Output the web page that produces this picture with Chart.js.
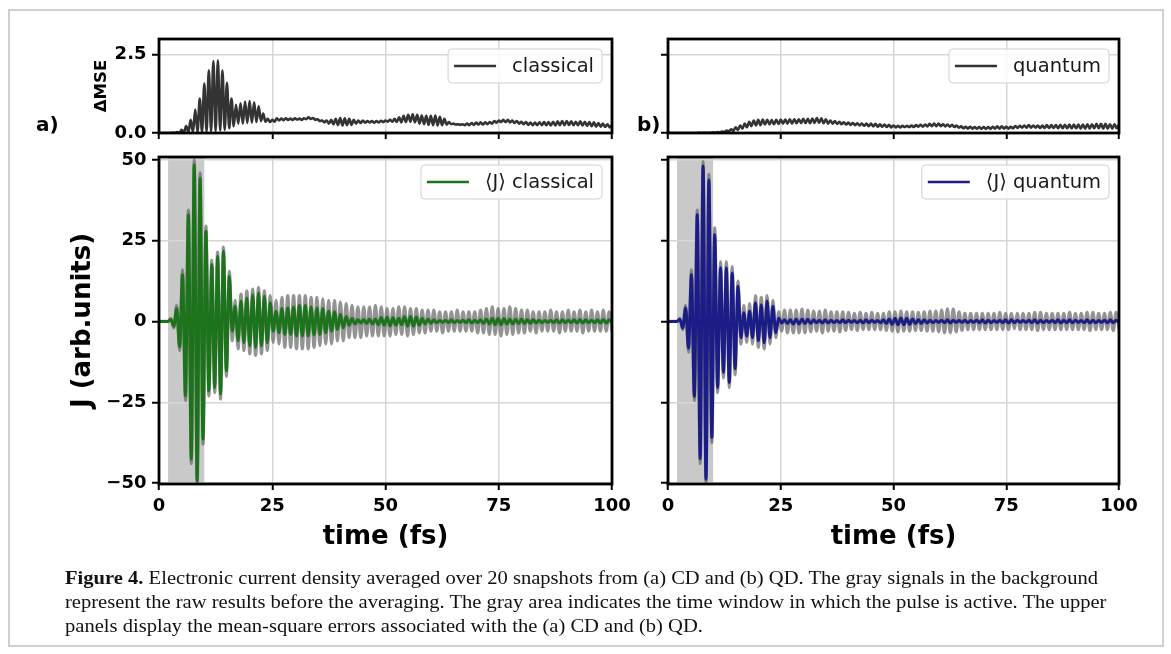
<!DOCTYPE html>
<html>
<head>
<meta charset="utf-8">
<script src="https://cdn.jsdelivr.net/npm/chart.js@4.4.1/dist/chart.umd.min.js"></script>
<style>
body { margin: 0; background: #fff; width: 1171px; height: 654px; overflow: hidden; position: relative; font-family: "DejaVu Sans", sans-serif; }
canvas { position: absolute; left: 0; top: 0; }
.frame { position: absolute; left: 8px; top: 9px; width: 1152px; height: 634px; border: 2px solid #d0d0d0; }
.tag { position: absolute; top: 112px; font: bold 20px/24px "DejaVu Sans", sans-serif; color: #000; }
#caption { position: absolute; left: 65px; top: 566px; font: 19px/24px "Liberation Serif", serif; color: #111; white-space: nowrap; transform-origin: 0 0; }
</style>
</head>
<body>
<div class="frame"></div>
<canvas id="mseA" width="1171" height="654"></canvas>
<canvas id="mseB" width="1171" height="654"></canvas>
<canvas id="curA" width="1171" height="654"></canvas>
<canvas id="curB" width="1171" height="654"></canvas>
<div class="tag" style="left:36px">a)</div>
<div class="tag" style="left:637px">b)</div>
<div id="caption"><span id="cap1"><b>Figure 4.</b> Electronic current density averaged over 20 snapshots from (a) CD and (b) QD. The gray signals in the background</span><br>represent the raw results before the averaging. The gray area indicates the time window in which the pulse is active. The upper<br>panels display the mean-square errors associated with the (a) CD and (b) QD.</div>
<script>
// axes
const timeTicks = [0, 25, 50, 75, 100];
const jTicks = [-50, -25, 0, 25, 50];
const mseTicks = [0, 2.5];
const pulseWindow = [2, 10];   // fs, pulse active

// current: extrema sampled every half period (fs)
const jStart = 2.62;
const jStep = 0.645;

const jClassicalMean = [
  0.6, -1.5, 4, -7.8, 14.5, -23, 33, -42.6, 48.5, -49.3,
  44.3, -36.4, 27.9, -21.5, 17.6, -20.5, 20.2, -22.5, 21.7, -15.3,
  14, -3, 4.7, -6, 6.3, -6.6, 7.3, -7.6, 8.3, -8.1,
  8.8, -7.6, 7.8, -6.6, 5.8, -3, 3.2, -3.5, 4, -4,
  4.2, -4, 4.5, -4.5, 5, -4.5, 5, -4.5, 4.5, -4.2,
  4.2, -4, 4, -3.5, 3.2, -3, 3, -2.5, 2.2, -2,
  1.5, -1.2, 1, -0.8, 0.6, -0.5, 0.6, -0.6, 0.8, -0.8,
  0.8, -1, 1.2, -1.2, 1.4, -1.4, 1.2, -1.2, 1, -1,
  1.5, -1.5, 1.6, -1.5, 1.4, -1.2, 1, -0.8, 0.8, -0.6,
  0.5, -0.4, 0.3, -0.3, 0.4, -0.4, 0.5, -0.4, 0.3, -0.3,
  0.4, -0.4, 0.5, -0.5, 0.4, -0.4, 0.5, -0.6, 0.8, -0.8,
  1, -1, 1, -1, 0.9, -0.8, 0.8, -0.8, 0.7, -0.7,
  0.8, -0.7, 0.6, -0.6, 0.6, -0.5, 0.4, -0.4, 0.3, -0.3,
  0.4, -0.4, 0.5, -0.5, 0.5, -0.4, 0.4, -0.4, 0.5, -0.5,
  0.6, -0.5, 0.5, -0.4, 0.4, -0.4, 0.5, -0.5, 0.6, -0.5,
  0.5, -0.4
];
const jClassicalRaw = [
  1, -2, 5, -9, 16, -24.5, 34.5, -44, 50, -50.2,
  46, -38, 29.5, -23, 19, -22, 21.5, -24, 23, -17,
  15.5, -6, 6.5, -8.5, 8.5, -9, 9.5, -10, 10, -10.5,
  10.5, -10, 9.5, -9, 8, -6.5, 6.5, -7, 7.5, -8,
  8, -8, 8, -8.5, 8, -8.5, 8, -8.5, 7.5, -8,
  7.5, -7.5, 7, -7, 6.5, -7, 6.5, -6, 6, -6,
  5.5, -5, 5, -5, 4.5, -5, 4.5, -4.5, 4.5, -4.5,
  5, -4.5, 4.5, -4.5, 4, -4.5, 4, -4, 4.5, -4,
  4.5, -4.5, 4, -4, 4, -3.5, 3.5, -3.5, 3.5, -3,
  3.5, -3, 3, -3.5, 3, -3, 3, -3, 3.5, -3,
  3, -3, 3, -3, 3, -3.5, 3.5, -3.5, 4, -4,
  4.5, -4, 4, -4.5, 4, -4, 4.5, -4, 4, -3.5,
  3.5, -3.5, 3.5, -3, 3, -3.5, 3, -3, 3, -3,
  3.5, -3, 3, -3.5, 3, -3, 3.5, -3, 3, -3,
  3.5, -3.5, 3, -3, 3.5, -3, 3, -3, 3.5, -3,
  3, -3
];
const jQuantumMean = [
  0.7, -2, 4.2, -8.3, 14.5, -23.2, 33, -42.4, 48.1, -48.8,
  43.8, -35.9, 26.9, -20.5, 16.6, -15.8, 16.6, -18.9, 15, -14.6,
  10.9, -5, 2.7, -4.5, 3.2, -5, 5.8, -6, 5.2, -6.6,
  6.3, -5, 4.7, -3.5, 1.1, -0.5, 0.5, -0.6, 0.6, -0.8,
  0.8, -0.8, 0.8, -0.7, 0.7, -0.6, 0.5, -0.4, 0.4, -0.5,
  0.5, -0.5, 0.4, -0.4, 0.3, -0.4, 0.5, -0.4, 0.4, -0.3,
  0.3, -0.4, 0.4, -0.5, 0.5, -0.4, 0.4, -0.3, 0.3, -0.4,
  0.5, -0.6, 0.8, -0.9, 1, -1, 1.1, -1, 1, -0.9,
  0.8, -0.7, 0.6, -0.6, 0.5, -0.5, 0.4, -0.4, 0.3, -0.3,
  0.4, -0.4, 0.5, -0.5, 0.4, -0.3, 0.3, -0.3, 0.4, -0.4,
  0.3, -0.3, 0.4, -0.4, 0.5, -0.5, 0.4, -0.4, 0.3, -0.3,
  0.4, -0.4, 0.5, -0.5, 0.5, -0.4, 0.4, -0.3, 0.3, -0.3,
  0.4, -0.4, 0.5, -0.5, 0.4, -0.4, 0.3, -0.3, 0.4, -0.4,
  0.5, -0.5, 0.4, -0.4, 0.5, -0.4, 0.4, -0.3, 0.3, -0.4,
  0.5, -0.5, 0.4, -0.4, 0.3, -0.3, 0.4, -0.4, 0.5, -0.4,
  0.4, -0.3
];
const jQuantumRaw = [
  1, -2.5, 5, -9.5, 16, -24.5, 34.5, -44, 49.5, -50,
  45.5, -37.5, 29, -22, 18.5, -17.5, 18.5, -20.5, 17, -16.5,
  12.5, -7, 5, -6.5, 5.5, -7, 8, -8, 7.5, -8.5,
  8, -7, 6.5, -5, 3, -3, 3.5, -3.5, 3.5, -3.5,
  3.5, -3.5, 3.8, -3.5, 3.5, -3.2, 3.2, -3, 3.2, -3.5,
  3.5, -3, 3, -3, 3, -3.2, 3, -2.8, 2.8, -2.5,
  2.5, -2.8, 2.8, -2.5, 2.5, -2.5, 2.8, -2.5, 2.5, -2.5,
  2.5, -2.8, 3, -3, 3, -3.2, 3.2, -3, 3, -3,
  3, -2.8, 2.8, -2.8, 3, -3, 3.2, -3, 3.2, -3.2,
  3.5, -3.5, 3.9, -3.5, 3.8, -3.2, 3, -2.8, 2.5, -2.5,
  2.5, -2.5, 2.5, -2.5, 2.5, -2.5, 2.5, -2.5, 2.5, -2.5,
  2.8, -2.5, 2.5, -2.5, 2.5, -2.3, 2.5, -2.5, 2.5, -2.5,
  2.5, -2.5, 2.8, -2.8, 2.8, -2.5, 2.5, -2.5, 2.5, -2.5,
  2.5, -2.5, 2.5, -2.5, 2.8, -2.5, 2.5, -2.5, 2.5, -2.5,
  2.8, -2.8, 2.8, -2.5, 2.5, -2.5, 2.5, -2.5, 2.8, -2.8,
  2.8, -2.5
];

// mean-square error, sampled every 0.5 fs from t = 0
const mseStep = 0.5;
const mseClassical = [
  0, 0, 0, 0, 0, 0, 0.01, 0, 0.03, 0.01,
  0.1, 0.02, 0.22, 0.03, 0.42, 0.03, 0.75, 0.04, 1.1, 0.04,
  1.58, 0.05, 2.0, 0.05, 2.3, 0.06, 2.32, 0.08, 2.0, 0.1,
  1.6, 0.15, 1.1, 0.22, 0.9, 0.3, 0.95, 0.3, 1.0, 0.32,
  1.02, 0.33, 0.98, 0.35, 0.85, 0.38, 0.62, 0.36, 0.45, 0.35,
  0.42, 0.36, 0.47, 0.4, 0.46, 0.41, 0.47, 0.42, 0.46, 0.42,
  0.47, 0.43, 0.46, 0.42, 0.47, 0.44, 0.5, 0.45, 0.48, 0.42,
  0.44, 0.38, 0.4, 0.34, 0.4, 0.3, 0.42, 0.28, 0.45, 0.25,
  0.48, 0.24, 0.47, 0.25, 0.45, 0.26, 0.42, 0.3, 0.4, 0.32,
  0.4, 0.33, 0.38, 0.34, 0.38, 0.33, 0.38, 0.34, 0.39, 0.35,
  0.4, 0.36, 0.42, 0.36, 0.45, 0.35, 0.5, 0.34, 0.55, 0.35,
  0.58, 0.36, 0.6, 0.34, 0.58, 0.3, 0.56, 0.28, 0.55, 0.26,
  0.55, 0.25, 0.56, 0.24, 0.52, 0.25, 0.45, 0.27, 0.35, 0.28,
  0.3, 0.27, 0.28, 0.26, 0.28, 0.25, 0.3, 0.25, 0.32, 0.26,
  0.33, 0.27, 0.34, 0.27, 0.34, 0.28, 0.35, 0.3, 0.38, 0.33,
  0.4, 0.35, 0.42, 0.35, 0.42, 0.34, 0.4, 0.32, 0.38, 0.3,
  0.36, 0.28, 0.35, 0.26, 0.33, 0.25, 0.33, 0.25, 0.34, 0.25,
  0.35, 0.25, 0.35, 0.24, 0.36, 0.24, 0.37, 0.25, 0.38, 0.25,
  0.38, 0.26, 0.37, 0.25, 0.36, 0.25, 0.37, 0.24, 0.36, 0.23,
  0.35, 0.22, 0.34, 0.2, 0.32, 0.2, 0.3, 0.19, 0.28, 0.18,
  0.25
];
const mseQuantum = [
  0, 0, 0, 0, 0, 0, 0, 0, 0, 0,
  0, 0, 0, 0, 0.01, 0, 0.01, 0, 0.01, 0.01,
  0.02, 0.01, 0.03, 0.02, 0.05, 0.03, 0.08, 0.05, 0.12, 0.07,
  0.18, 0.1, 0.24, 0.14, 0.3, 0.18, 0.36, 0.22, 0.4, 0.24,
  0.42, 0.25, 0.43, 0.27, 0.42, 0.28, 0.41, 0.28, 0.42, 0.29,
  0.43, 0.3, 0.43, 0.3, 0.44, 0.3, 0.44, 0.31, 0.44, 0.32,
  0.45, 0.32, 0.45, 0.31, 0.46, 0.32, 0.48, 0.32, 0.47, 0.31,
  0.44, 0.3, 0.4, 0.3, 0.38, 0.29, 0.36, 0.28, 0.34, 0.27,
  0.33, 0.26, 0.32, 0.25, 0.31, 0.24, 0.3, 0.23, 0.3, 0.22,
  0.3, 0.21, 0.29, 0.2, 0.28, 0.2, 0.27, 0.19, 0.26, 0.18,
  0.24, 0.18, 0.23, 0.18, 0.23, 0.19, 0.23, 0.19, 0.24, 0.19,
  0.25, 0.2, 0.26, 0.2, 0.27, 0.21, 0.29, 0.22, 0.3, 0.22,
  0.3, 0.22, 0.28, 0.21, 0.27, 0.2, 0.26, 0.19, 0.24, 0.17,
  0.21, 0.15, 0.2, 0.14, 0.2, 0.14, 0.19, 0.14, 0.19, 0.13,
  0.19, 0.13, 0.19, 0.13, 0.2, 0.14, 0.21, 0.14, 0.21, 0.14,
  0.2, 0.14, 0.2, 0.15, 0.22, 0.16, 0.23, 0.17, 0.24, 0.17,
  0.25, 0.17, 0.24, 0.17, 0.24, 0.16, 0.24, 0.16, 0.25, 0.16,
  0.25, 0.16, 0.25, 0.15, 0.26, 0.15, 0.26, 0.15, 0.27, 0.15,
  0.27, 0.15, 0.27, 0.14, 0.27, 0.14, 0.28, 0.14, 0.28, 0.15,
  0.29, 0.15, 0.29, 0.14, 0.29, 0.14, 0.28, 0.14, 0.28, 0.15,
  0.27
];

const W = 1171, H = 654;
const tickFont = { family: 'DejaVu Sans', weight: 'bold', size: 18 };
const green = '#1c731c';
const navy = '#1c1c86';
const rawGray = 'rgba(105,105,105,0.72)';
const mseColor = '#333333';

function toPoints(values, start, step, quietUntil) {
  const pts = [];
  if (quietUntil !== undefined) {
    pts.push({ x: 0, y: 0 }, { x: quietUntil, y: 0 });
  }
  values.forEach((v, i) => pts.push({ x: start + i * step, y: v }));
  return pts;
}

// lower order is drawn on top
function lineSet(points, color, width, order) {
  return {
    data: points,
    borderColor: color,
    borderWidth: width,
    pointRadius: 0,
    fill: false,
    order: order || 0,
    cubicInterpolationMode: 'monotone'
  };
}

function minusSign(v) {
  return v < 0 ? '\u2212' + Math.abs(v) : String(v);
}

function decorPlugin(legend, pulse) {
  return {
    id: 'decor',
    beforeDraw(chart) {
      if (!pulse) return;
      const { ctx, chartArea: a, scales: { x } } = chart;
      const x0 = x.getPixelForValue(pulse[0]);
      const x1 = x.getPixelForValue(pulse[1]);
      ctx.save();
      ctx.fillStyle = '#c9c9c9';
      ctx.fillRect(x0, a.top, x1 - x0, a.bottom - a.top);
      ctx.restore();
    },
    afterDraw(chart) {
      const { ctx, chartArea: a } = chart;
      ctx.save();
      // legend box
      ctx.font = '19.5px "DejaVu Sans"';
      const tw = ctx.measureText(legend.text).width;
      const h = 34, w = 6 + 42 + 16 + tw + 8;
      const lx = a.right - 10 - w, ly = a.top + legend.inset;
      ctx.beginPath();
      ctx.roundRect(lx, ly, w, h, 4);
      ctx.fillStyle = 'rgba(255,255,255,0.85)';
      ctx.fill();
      ctx.strokeStyle = '#d0d0d0';
      ctx.lineWidth = 1;
      ctx.stroke();
      ctx.beginPath();
      ctx.moveTo(lx + 6, ly + h / 2);
      ctx.lineTo(lx + 48, ly + h / 2);
      ctx.strokeStyle = legend.color;
      ctx.lineWidth = 2.6;
      ctx.stroke();
      ctx.fillStyle = '#1a1a1a';
      ctx.textBaseline = 'middle';
      ctx.fillText(legend.text, lx + 64, ly + h / 2 + 1);
      // axes frame
      ctx.strokeStyle = '#000';
      ctx.lineWidth = 2.8;
      ctx.strokeRect(a.left, a.top, a.right - a.left, a.bottom - a.top);
      ctx.restore();
    }
  };
}

function panel(id, box, cfg) {
  const grid = { color: '#d6d6d6', lineWidth: 1.5, tickColor: '#000', tickWidth: 2, tickLength: cfg.tickLen, drawTicks: true };
  new Chart(document.getElementById(id), {
    type: 'line',
    data: { datasets: cfg.datasets },
    options: {
      responsive: false,
      animation: false,
      events: [],
      layout: { padding: { left: box.l - cfg.yW, top: box.t, right: W - box.r, bottom: H - box.b - cfg.xH } },
      plugins: { legend: { display: false }, tooltip: { enabled: false } },
      scales: {
        x: {
          type: 'linear', min: 0, max: 100,
          afterBuildTicks: s => { s.ticks = timeTicks.map(v => ({ value: v })); },
          afterFit: s => { s.height = cfg.xH; },
          grid: Object.assign({}, grid, { tickLength: 6 }),
          border: { display: false },
          ticks: { display: cfg.xLabels, font: tickFont, color: '#000', padding: 6, maxRotation: 0, autoSkip: false },
          title: cfg.xTitle ? { display: true, text: cfg.xTitle, font: { family: 'DejaVu Sans', weight: 'bold', size: 26 }, color: '#000', padding: { top: 0, bottom: 4 } } : { display: false }
        },
        y: {
          type: 'linear', min: cfg.yMin, max: cfg.yMax,
          afterBuildTicks: s => { s.ticks = cfg.yTicks.map(v => ({ value: v })); },
          afterFit: s => { s.width = cfg.yW; },
          grid: grid,
          border: { display: false },
          ticks: { display: cfg.yLabels, font: tickFont, color: '#000', padding: 5.5, callback: cfg.yFormat },
          title: cfg.yTitle ? { display: true, text: cfg.yTitle, font: { family: 'DejaVu Sans', weight: 'bold', size: cfg.yTitleSize }, color: '#000', padding: { top: 4, bottom: 0 } } : { display: false }
        }
      }
    },
    plugins: [decorPlugin(cfg.legend, cfg.pulse)]
  });
}

const boxes = {
  mseA: { l: 159, t: 39, r: 612, b: 133 },
  mseB: { l: 668, t: 39, r: 1119, b: 133 },
  curA: { l: 159, t: 157, r: 612, b: 484 },
  curB: { l: 668, t: 157, r: 1119, b: 484 }
};

const mseCommon = { xH: 8, xLabels: false, yMin: 0, yMax: 3, yTicks: mseTicks, tickLen: 7, yFormat: v => v.toFixed(1) };
const curCommon = { xH: 73, xLabels: true, xTitle: 'time (fs)', yMin: -50.3, yMax: 50.9, yTicks: jTicks, tickLen: 7, yFormat: minusSign, pulse: pulseWindow };

panel('mseA', boxes.mseA, Object.assign({}, mseCommon, {
  yW: 71, yLabels: true, yTitle: '\u0394MSE', yTitleSize: 16.5,
  datasets: [lineSet(toPoints(mseClassical, 0, mseStep), mseColor, 2.6)],
  legend: { text: 'classical', color: mseColor, inset: 10 }
}));
panel('mseB', boxes.mseB, Object.assign({}, mseCommon, {
  yW: 20, yLabels: false,
  datasets: [lineSet(toPoints(mseQuantum, 0, mseStep), mseColor, 2.6)],
  legend: { text: 'quantum', color: mseColor, inset: 10 }
}));
panel('curA', boxes.curA, Object.assign({}, curCommon, {
  yW: 95, yLabels: true, yTitle: 'J (arb.units)', yTitleSize: 26,
  datasets: [
    lineSet(toPoints(jClassicalMean, jStart, jStep, pulseWindow[0]), green, 3, 0),
    lineSet(toPoints(jClassicalRaw, jStart, jStep, pulseWindow[0]), rawGray, 3.2, 1)
  ],
  legend: { text: '\u27E8J\u27E9 classical', color: green, inset: 8 }
}));
panel('curB', boxes.curB, Object.assign({}, curCommon, {
  yW: 20, yLabels: false,
  datasets: [
    lineSet(toPoints(jQuantumMean, jStart, jStep, pulseWindow[0]), navy, 3, 0),
    lineSet(toPoints(jQuantumRaw, jStart, jStep, pulseWindow[0]), rawGray, 3.2, 1)
  ],
  legend: { text: '\u27E8J\u27E9 quantum', color: navy, inset: 8 }
}));

// squeeze the caption to the printed line width
const cap = document.getElementById('caption');
const w1 = document.getElementById('cap1').getBoundingClientRect().width;
cap.style.transform = 'scaleX(' + (1033 / w1) + ')';
</script>
</body>
</html>
